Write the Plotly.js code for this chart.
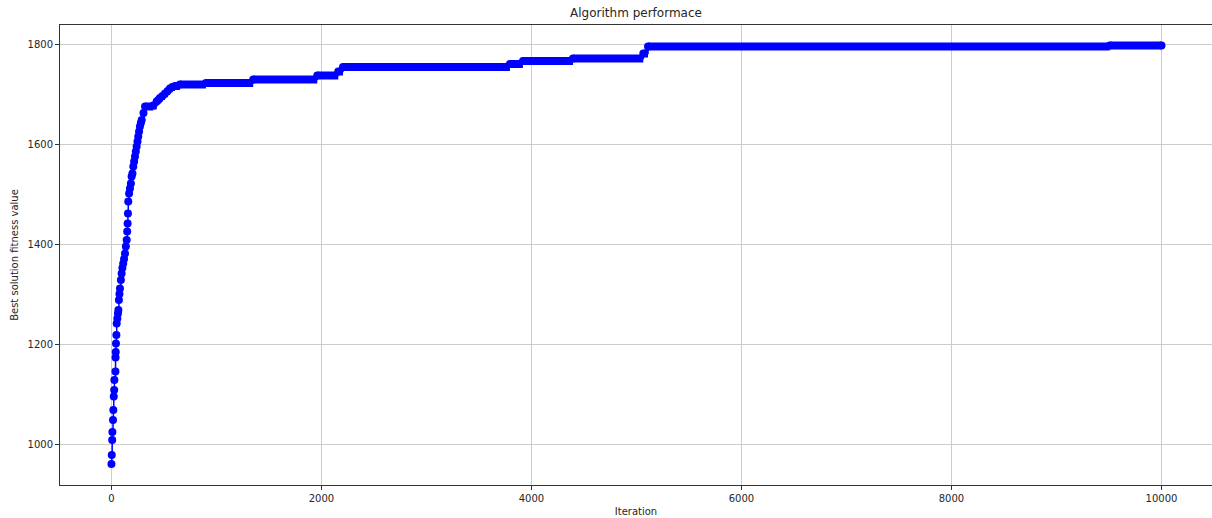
<!DOCTYPE html>
<html>
<head>
<meta charset="utf-8">
<script src="https://cdn.plot.ly/plotly-3.0.1.min.js"></script>
<style>
  html, body { margin: 0; padding: 0; background: #ffffff; }
  #chart { width: 1212px; height: 518px; }
</style>
</head>
<body>
<div id="chart"></div>
<script>
// Iterations at which the best fitness improved, plus the last iteration
const iterations = [
  0, 3, 7, 9, 15, 18, 22, 26, 28, 38, 39, 41, 43, 47, 50, 56, 62, 66, 71, 76,
  81, 90, 97, 104, 112, 120, 129, 137, 145, 150, 154, 157, 160, 168, 176, 185,
  192, 200, 208, 216, 224, 232, 240, 248, 255, 263, 271, 280, 288, 305, 320,
  398, 430, 446, 462, 485, 510, 535, 557, 580, 605, 652, 900, 1350, 1960, 2160,
  2205, 3795, 3919, 4395, 5065, 5110, 9507, 10000
];
// Best solution fitness value at those iterations
const bestFitness = [
  960, 978, 1008, 1024, 1048, 1068, 1095, 1108, 1128, 1145, 1173, 1184, 1201, 1218, 1241, 1251, 1261, 1268, 1288, 1300,
  1311, 1328, 1341, 1352, 1361, 1370, 1381, 1395, 1408, 1425, 1441, 1461, 1485, 1501, 1511, 1521,
  1535, 1541, 1555, 1565, 1575, 1585, 1595, 1605, 1615, 1625, 1635, 1642, 1648, 1662, 1675,
  1677, 1685, 1688, 1692, 1696, 1701, 1706, 1711, 1714, 1716, 1719, 1722, 1729, 1737, 1745,
  1754, 1760, 1766, 1771, 1781, 1795, 1797, 1797
];
const xTicks = [0, 2000, 4000, 6000, 8000, 10000];
const yTicks = [1000, 1200, 1400, 1600, 1800];

const chartTitle = 'Algorithm performace';
const xLabel = 'Iteration';
const yLabel = 'Best solution fitness value';

// Plateaus: value held from one improvement to the next
const plateauX = [], plateauY = [];
for (let i = 0; i < iterations.length - 1; i++) {
  plateauX.push(iterations[i], iterations[i + 1], null);
  plateauY.push(bestFitness[i], bestFitness[i], null);
}

const blue = '#0000ff';
const font = 'DejaVu Sans, Liberation Sans, sans-serif';
const textColor = '#262626';

const traces = [
  {
    x: plateauX, y: plateauY, type: 'scatter', mode: 'lines',
    line: { color: blue, width: 8 }, hoverinfo: 'skip', connectgaps: false
  },
  {
    x: iterations, y: bestFitness, type: 'scatter', mode: 'lines+markers',
    line: { color: blue, width: 1.5, shape: 'hv' },
    marker: { color: blue, size: 8, line: { width: 0 } }
  }
];

const layout = {
  width: 1212, height: 518,
  margin: { l: 60, r: 0, t: 25, b: 33, pad: 0 },
  paper_bgcolor: '#ffffff', plot_bgcolor: '#ffffff',
  showlegend: false,
  font: { family: font, size: 10, color: textColor },
  title: {
    text: chartTitle, font: { family: font, size: 12, color: textColor },
    x: 0.5, xanchor: 'center', xref: 'paper',
    y: 1 - 13 / 518, yanchor: 'middle', yref: 'container'
  },
  xaxis: {
    range: [-490, 10481], tickvals: xTicks, ticktext: xTicks.map(String),
    showgrid: true, gridcolor: '#cccccc', gridwidth: 1, zeroline: false,
    showline: true, linecolor: '#333333', linewidth: 1, mirror: true,
    ticks: 'outside', ticklen: 4, tickwidth: 1, tickcolor: '#333333',
    tickfont: { family: font, size: 10, color: textColor },
    title: { text: xLabel, font: { family: font, size: 10, color: textColor }, standoff: 4 }
  },
  yaxis: {
    range: [918, 1838], tickvals: yTicks, ticktext: yTicks.map(String),
    showgrid: true, gridcolor: '#cccccc', gridwidth: 1, zeroline: false,
    showline: true, linecolor: '#333333', linewidth: 1, mirror: false,
    ticks: 'outside', ticklen: 4, tickwidth: 1, tickcolor: '#333333',
    tickfont: { family: font, size: 10, color: textColor },
    title: { text: yLabel, font: { family: font, size: 10, color: textColor }, standoff: 7 }
  }
};

Plotly.newPlot('chart', traces, layout, { displayModeBar: false, staticPlot: true });
</script>
</body>
</html>
